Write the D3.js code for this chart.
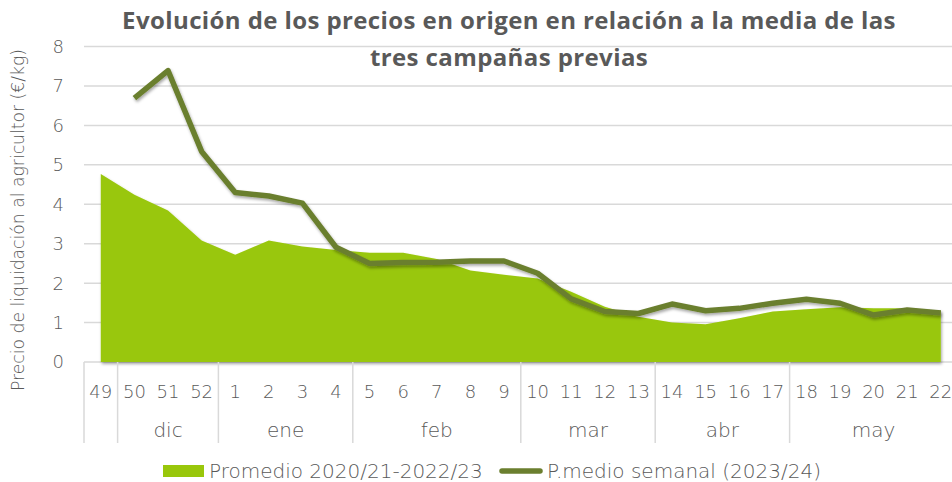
<!DOCTYPE html>
<html lang="es">
<head>
    <meta charset="UTF-8">
    <title>Evolución de los precios en origen</title>
    <script src="https://d3js.org/d3.v7.min.js"></script>
    <style>
        body {
            margin: 0;
            background: #fff;
        }
        svg {
            display: block;
        }
        .tick-label {
            font-family: "DejaVu Sans", sans-serif;
            font-weight: 200;
            font-size: 18px;
            fill: #595959;
        }
        .big-label {
            font-family: "DejaVu Sans", sans-serif;
            font-weight: 200;
            font-size: 20px;
            fill: #595959;
        }
        .title {
            font-family: "Open Sans", sans-serif;
            font-weight: bold;
            font-size: 24px;
            letter-spacing: 0.4px;
            fill: #595959;
        }
    </style>
</head>
<body>
    <svg width="952" height="482"></svg>
    <script>
        // semanas de campaña y mes al que pertenecen
        const weeks = ["49", "50", "51", "52", "1", "2", "3", "4", "5", "6", "7", "8", "9",
            "10", "11", "12", "13", "14", "15", "16", "17", "18", "19", "20", "21", "22"];
        const months = ["", "dic", "dic", "dic", "ene", "ene", "ene", "ene",
            "feb", "feb", "feb", "feb", "feb", "mar", "mar", "mar", "mar",
            "abr", "abr", "abr", "abr", "may", "may", "may", "may", "may"];

        // Promedio 2020/21-2022/23 (€/kg)
        const promedio = [4.77, 4.24, 3.84, 3.08, 2.72, 3.08, 2.93, 2.84, 2.77, 2.77, 2.61, 2.32, 2.21,
            2.12, 1.78, 1.40, 1.15, 1.00, 0.96, 1.11, 1.28, 1.34, 1.39, 1.36, 1.36, 1.30];
        // P.medio semanal (2023/24) (€/kg)
        const semanal = [null, 6.69, 7.39, 5.34, 4.30, 4.21, 4.03, 2.91, 2.50, 2.52, 2.53, 2.56, 2.56,
            2.25, 1.60, 1.28, 1.23, 1.47, 1.30, 1.36, 1.49, 1.59, 1.49, 1.19, 1.32, 1.24];

        const yTicks = [0, 1, 2, 3, 4, 5, 6, 7, 8];

        const areaColor = "#99c70b";
        const lineColor = "#6b7f2f";
        const gridColor = "#d9d9d9";

        const svg = d3.select("svg");

        const left = 84;
        const bottom = 362;
        const x = d3.scaleBand().domain(weeks).range([left, left + 33.6 * weeks.length]).padding(0);
        const y = d3.scaleLinear().domain([0, 8]).range([bottom, 46.5]);
        const cx = w => x(w) + x.bandwidth() / 2;

        const defs = svg.append("defs");
        const shadow = defs.append("filter").attr("id", "shadow")
            .attr("x", "-5%").attr("y", "-5%").attr("width", "110%").attr("height", "120%");
        shadow.append("feDropShadow")
            .attr("dx", 1).attr("dy", 2).attr("stdDeviation", 1.5)
            .attr("flood-color", "#000").attr("flood-opacity", 0.35);

        // gridlines
        svg.append("g").selectAll("line")
            .data(yTicks)
            .join("line")
            .attr("x1", left).attr("x2", 952)
            .attr("y1", d => y(d)).attr("y2", d => y(d))
            .attr("stroke", gridColor)
            .attr("stroke-width", 1.5);

        // y labels
        svg.append("g").selectAll("text")
            .data(yTicks)
            .join("text")
            .attr("class", "tick-label")
            .attr("x", 64)
            .attr("y", d => y(d))
            .attr("dy", "0.36em")
            .attr("text-anchor", "end")
            .text(d => d);

        // y axis title
        svg.append("text")
            .attr("class", "tick-label")
            .attr("transform", `translate(24,${220}) rotate(-90)`)
            .attr("text-anchor", "middle")
            .style("font-size", "17.2px")
            .text("Precio de liquidación al agricultor (€/kg)");

        // area
        const area = d3.area()
            .x((d, i) => cx(weeks[i]))
            .y0(y(0))
            .y1(d => y(d));

        svg.append("path")
            .datum(promedio)
            .attr("d", area)
            .attr("fill", areaColor)
            .attr("filter", "url(#shadow)");

        // line
        const line = d3.line()
            .defined(d => d != null)
            .x((d, i) => cx(weeks[i]))
            .y(d => y(d));

        svg.append("path")
            .datum(semanal)
            .attr("d", line)
            .attr("fill", "none")
            .attr("stroke", lineColor)
            .attr("stroke-width", 5.5)
            .attr("stroke-linejoin", "round")
            .attr("filter", "url(#shadow)");

        // week labels
        svg.append("g").selectAll("text")
            .data(weeks)
            .join("text")
            .attr("class", "tick-label")
            .attr("x", d => cx(d))
            .attr("y", 398)
            .attr("text-anchor", "middle")
            .text(d => d);

        // month groups
        const groups = [];
        months.forEach((m, i) => {
            const last = groups[groups.length - 1];
            if (last && last.name === m) last.end = i;
            else groups.push({ name: m, start: i, end: i });
        });

        svg.append("g").selectAll("line")
            .data(groups)
            .join("line")
            .attr("x1", d => x(weeks[d.start])).attr("x2", d => x(weeks[d.start]))
            .attr("y1", bottom).attr("y2", 443)
            .attr("stroke", gridColor)
            .attr("stroke-width", 1.5);

        svg.append("g").selectAll("text")
            .data(groups.filter(g => g.name))
            .join("text")
            .attr("class", "big-label")
            .attr("x", d => (x(weeks[d.start]) + x(weeks[d.end]) + x.bandwidth()) / 2)
            .attr("y", 437)
            .attr("text-anchor", "middle")
            .text(d => d.name);

        // title
        const title = svg.append("text")
            .attr("class", "title")
            .attr("text-anchor", "middle");
        title.append("tspan").attr("x", 509).attr("y", 29)
            .text("Evolución de los precios en origen en relación a la media de las");
        title.append("tspan").attr("x", 509).attr("y", 66)
            .text("tres campañas previas");

        // legend
        const legend = svg.append("g");
        legend.append("rect")
            .attr("x", 163).attr("y", 465).attr("width", 41).attr("height", 12)
            .attr("fill", areaColor);
        legend.append("text")
            .attr("class", "big-label")
            .attr("x", 209).attr("y", 471).attr("dy", "0.36em")
            .text("Promedio 2020/21-2022/23");
        legend.append("line")
            .attr("x1", 502).attr("x2", 540).attr("y1", 471).attr("y2", 471)
            .attr("stroke", lineColor).attr("stroke-width", 5.5)
            .attr("stroke-linecap", "round");
        legend.append("text")
            .attr("class", "big-label")
            .attr("x", 547).attr("y", 471).attr("dy", "0.36em")
            .text("P.medio semanal (2023/24)");
    </script>
</body>
</html>
